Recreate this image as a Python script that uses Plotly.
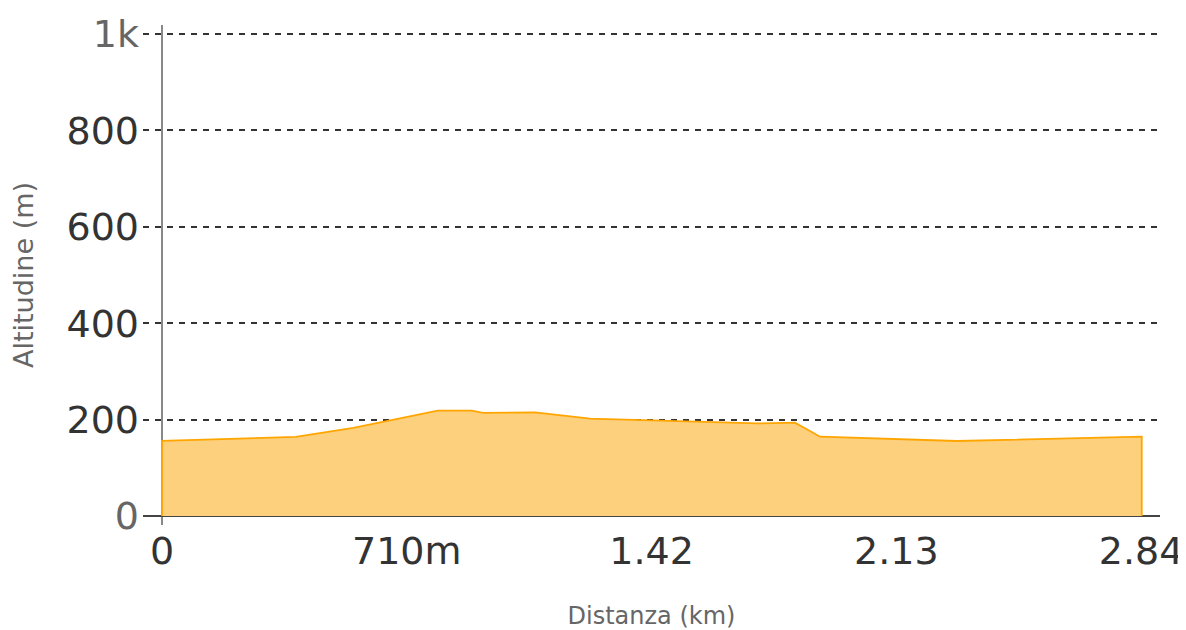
import plotly.graph_objects as go

# Distance (km) and altitude (m)
dist_km = [0.0, 0.0, 0.388, 0.555, 0.80, 0.898, 0.932, 1.082, 1.242, 1.60, 1.725, 1.836, 1.909, 2.305, 2.842, 2.842]
alt_m = [0, 156, 164, 183, 218.5, 218.5, 214, 215, 202, 194, 192, 193.6, 164.5, 155.6, 164.5, 0]

x_tickvals = [0, 0.71, 1.42, 2.13, 2.84]
x_ticktext = ["0", "710m", "1.42", "2.13", "2.84"]
y_tickvals = [0, 200, 400, 600, 800, 1000]
y_ticktext = ["<span style='color:#666666'>0</span>", "200", "400", "600", "800",
              "<span style='color:#666666'>1k</span>"]

fig = go.Figure()
fig.add_trace(go.Scatter(
    x=dist_km, y=alt_m, mode="lines", fill="tozeroy",
    line=dict(color="#FFA500", width=1.8),
    fillcolor="rgba(253,208,125,1)",
    hoverinfo="skip",
))

fig.update_layout(
    width=1178, height=622,
    margin=dict(l=135, r=26, t=17, b=105),
    paper_bgcolor="white", plot_bgcolor="white",
    font=dict(family="DejaVu Sans", color="#333333"),
    showlegend=False,
    xaxis=dict(
        range=[-0.0551, 2.895], automargin=False,
        tickvals=x_tickvals, ticktext=x_ticktext,
        tickfont=dict(size=38, color="#333333"),
        showgrid=False, showline=False, ticks="",
        zeroline=True, zerolinecolor="#888888", zerolinewidth=1.8,
        title=dict(text="Distanza (km)", font=dict(size=24, color="#666666"), standoff=38),
    ),
    yaxis=dict(
        range=[-18.7, 1018.7], automargin=False,
        tickvals=y_tickvals, ticktext=y_ticktext, ticklabelstandoff=3,
        tickfont=dict(size=38, color="#333333"),
        showgrid=True, gridcolor="#333333", gridwidth=1.5, griddash="6px,6px",
        showline=False, ticks="",
        zeroline=True, zerolinecolor="#444444", zerolinewidth=1.8,
        title=dict(text="Altitudine (m)", font=dict(size=27, color="#666666"), standoff=42),
    ),
)

fig.write_html("out.html")
